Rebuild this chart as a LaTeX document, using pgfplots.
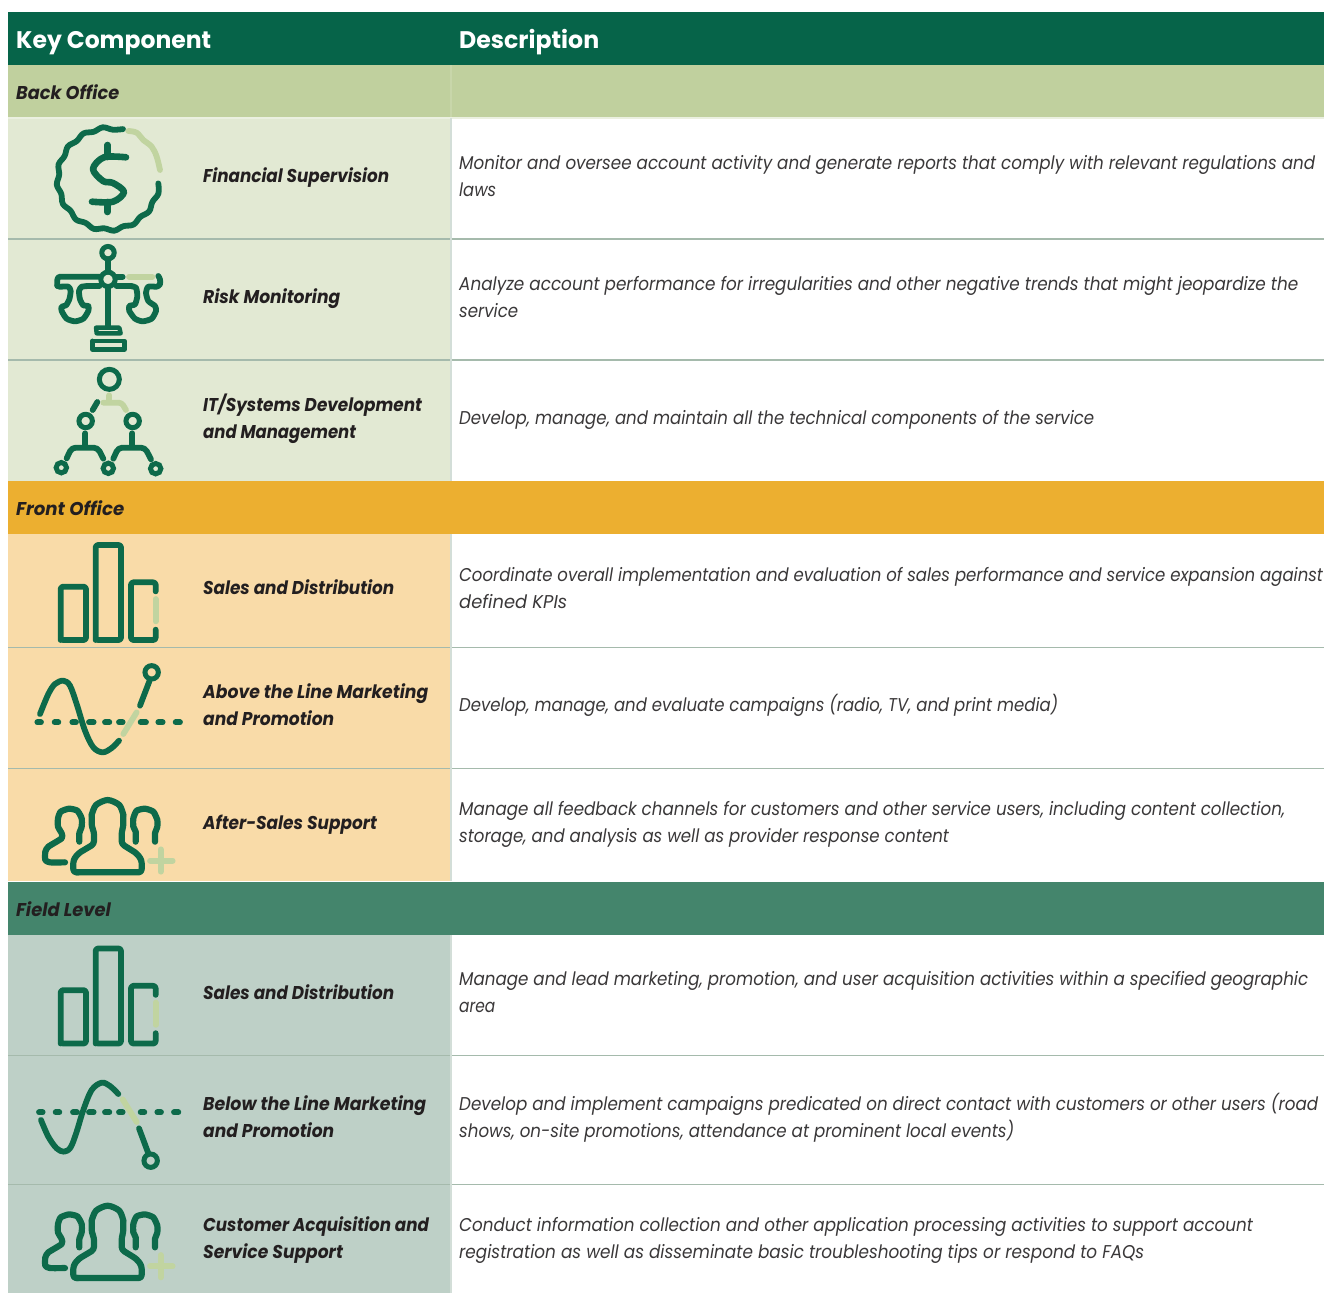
\documentclass[border=0pt]{standalone}
\usepackage{fontspec}
\setmainfont{Poppins}
\usepackage{graphicx}
\usepackage{pgfplots}
\pgfplotsset{compat=1.18}
\definecolor{hdr}{HTML}{066449}
\definecolor{bandA}{HTML}{C0D09E}
\definecolor{rowA}{HTML}{E2E9D3}
\definecolor{bandB}{HTML}{ECAF30}
\definecolor{rowB}{HTML}{F9DBA8}
\definecolor{bandC}{HTML}{44856C}
\definecolor{rowC}{HTML}{BED0C7}
\definecolor{sep}{HTML}{A5BAAC}
\definecolor{vsep}{HTML}{D3DED8}
\definecolor{ink}{HTML}{0D6A4A}
\definecolor{pale}{HTML}{C1D4A0}
\definecolor{txt}{HTML}{231F20}
\definecolor{body}{HTML}{3A3839}
\pgfplotsset{
  z/.style 2 args={x filter/.expression={#1+x/3},y filter/.expression={#2+y/3}},
  dk/.style={draw=ink,line width=5.8pt,line cap=round,line join=round,no markers,mark=none},
  lt/.style={draw=pale,line width=5.8pt,line cap=round,line join=round,no markers,mark=none},
  ring/.style={only marks,mark=o,mark size=#1pt,mark options={draw=ink,line width=5pt}},
}
\newcommand{\rect}[5]{\addplot[fill=#5,draw=none,forget plot] coordinates {(#1,#2)(#3,#2)(#3,#4)(#1,#4)} --cycle;}
\newcommand{\hln}[1]{\addplot[draw=sep,line width=1.9pt,forget plot] coordinates {(8,#1)(1324,#1)};}
\newcommand{\T}[6]{\node[anchor=base west,inner sep=0pt,text=#5] at (axis cs:#1,#2) {\fontsize{#6}{#6}\selectfont\resizebox{#3pt}{\height}{#4}};}
\newcommand{\BI}[1]{\textbf{\textit{#1}}}
\newcommand{\Nm}[4]{\T{#1}{#2}{#3}{\BI{#4}}{txt}{18.5}}
\newcommand{\Ds}[4]{\T{#1}{#2}{#3}{\textit{#4}}{body}{18.5}}
% bars icon
\newcommand{\barsicon}[2]{
 \addplot[dk,z={#1}{#2},rounded corners=2.5pt] coordinates {(122,318)(122,158)(198,158)(198,318)(122,318)(122,200)};
 \addplot[dk,z={#1}{#2},rounded corners=2.5pt] coordinates {(227,318)(227,33)(303,33)(303,318)(227,318)(227,200)};
 \addplot[dk,z={#1}{#2},rounded corners=2.5pt] coordinates {(407,172)(407,145)(333,145)(333,318)(407,318)(407,287)};
 \addplot[lt,z={#1}{#2}] coordinates {(407,195)(407,262)};
}
% people icon
\newcommand{\peopleicon}[2]{
 \addplot[dk,line width=6.2pt,smooth,tension=0.35,z={#1}{#2}] coordinates {(135,277)(90,277)(76,270)(76,245)(85,230)(125,205)(125,190)(114,170)(114,145)(122,125)(147,116)(172,122)(185,145)(185,170)(178,190)(178,215)};
 \addplot[dk,line width=6.2pt,smooth,tension=0.35,z={#1}{#2}] coordinates {(347,215)(347,185)(340,170)(340,145)(350,122)(375,116)(400,125)(412,150)(412,170)(405,190)(405,215)};
 \addplot[dk,line width=6.2pt,z={#1}{#2},rounded corners=3pt] coordinates {(170,307)(365,307)(365,270)(350,250)(305,222)(305,185)(310,170)(310,135)};
 \addplot[dk,line width=6.2pt,smooth,tension=0.5,z={#1}{#2}] coordinates {(310,135)(298,105)(263,90)(228,105)(215,135)};
 \addplot[dk,line width=6.2pt,z={#1}{#2},rounded corners=3pt] coordinates {(215,135)(215,170)(222,185)(222,222)(175,250)(160,270)(160,307)(175,307)};
 \addplot[lt,z={#1}{#2}] coordinates {(390,272)(458,272)};
 \addplot[lt,z={#1}{#2}] coordinates {(422,238)(422,305)};
}
\begin{document}
\begin{tikzpicture}
\begin{axis}[
  scale only axis,width=1324pt,height=1293pt,
  xmin=0,xmax=1324,ymin=0,ymax=1293,y dir=reverse,
  hide axis,clip=true,axis on top=false,
]
% full page
\rect{0}{0}{1324}{1293}{white}
% bands and rows
\rect{8}{12}{1324}{65}{hdr}
\rect{8}{65}{1324}{117.5}{bandA}
\rect{8}{118}{451}{481}{rowA}
\rect{8}{481}{1324}{533.5}{bandB}
\rect{8}{534}{451}{881}{rowB}
\rect{8}{882}{1324}{934.5}{bandC}
\rect{8}{935}{451}{1293}{rowC}
\addplot[draw=rowA!70!white,line width=1.5pt] coordinates {(8,118)(1324,118)};
\hln{239}\hln{360}\hln{647.5}\hln{768.5}\hln{1055.5}\hln{1184.5}
\addplot[draw=bandA!88!white,line width=2pt] coordinates {(451,65)(451,117)};
\addplot[draw=vsep,line width=2pt] coordinates {(451,118)(451,481)};
\addplot[draw=vsep,line width=2pt] coordinates {(451,534)(451,881)};
\addplot[draw=vsep,line width=2pt] coordinates {(451,935)(451,1293)};
% icon 1: dollar
\addplot[dk,smooth,tension=0.6] coordinates {(158.3,183.4)(158.4,193.6)(152.4,201.9)(149.1,211.5)(140.3,216.9)(133.5,224.6)(123.4,226.2)(114.2,230.7)(104.2,228.3)(93.9,228.9)(85.6,222.9)(76,219.6)(70.6,210.8)(62.9,204)(61.3,193.9)(56.8,184.7)(59.2,174.7)(58.6,164.4)(64.6,156.1)(67.9,146.4)(76.7,141.1)(83.5,133.4)(93.6,131.8)(102.8,127.3)(112.8,129.7)(123,129.1)};
\addplot[lt,smooth,tension=0.6] coordinates {(128.3,131)(136.7,132.7)(143.3,140)(151.7,146.7)(156.7,156.7)(160,170)};
\addplot[dk,line width=6.6pt,smooth,tension=0.55] coordinates {(126,157.3)(104,157.3)(93,169)(103,181)(113,183)(124,192)(113,201.7)(92,201.7)};
\addplot[dk,line width=6.6pt] coordinates {(107.7,145)(107.7,157)};
\addplot[dk,line width=6.6pt] coordinates {(107.3,202)(107.3,212)};
% icon 2: scales
\addplot[ring=6.2,z={20}{236}] coordinates {(264,50)};
\addplot[ring=7.2,z={20}{236}] coordinates {(264,130)};
\addplot[dk,z={20}{236}] coordinates {(264,75)(264,102)};
\addplot[dk,z={20}{236},smooth,tension=0.4] coordinates {(112,148)(118,152)(145,152)(152,165)(148,190)(138,208)(125,212)(125,225)(140,248)(165,256)(190,248)(205,225)(205,210)(190,208)(180,190)(177,165)(185,152)(200,151)};
\addplot[dk,z={20}{236},rounded corners=3pt] coordinates {(238,122)(112,122)(112,150)};
\addplot[dk,z={20}{236}] coordinates {(200,151)(238,151)};
\addplot[dk,z={20}{236}] coordinates {(288,122)(308,122)};
\addplot[lt,z={20}{236}] coordinates {(327,122)(397,122)};
\addplot[dk,z={20}{236},smooth,tension=0.4] coordinates {(415,120)(420,130)(420,145)(410,152)(385,152)(378,170)(385,195)(405,210)(408,225)(395,248)(368,256)(345,248)(328,225)(328,210)(345,205)(352,180)(348,155)(335,151)};
\addplot[dk,z={20}{236}] coordinates {(335,151)(290,151)};
\addplot[dk,z={20}{236}] coordinates {(264,158)(264,272)};
\addplot[dk,line width=4.4pt,z={20}{236}] coordinates {(230,292)(228,275)(298,275)(302,292)(230,292)};
\addplot[dk,line width=4.8pt,z={20}{236}] coordinates {(217,315)(313,315)(313,340)(217,340)(217,315)};
% icon 3: hierarchy
\addplot[ring=10,z={20}{236}] coordinates {(268,430)};
\addplot[ring=6.7,z={20}{236}] coordinates {(197,555)(338,555)};
\addplot[ring=5.2,z={20}{236}] coordinates {(124,695)(265,697)(407,698)};
\addplot[lt,z={20}{236}] coordinates {(268,478)(268,498)};
\addplot[lt,z={20}{236},rounded corners=3pt] coordinates {(250,500)(305,500)(318,522)};
\addplot[dk,z={20}{236}] coordinates {(232,498)(218,522)};
\addplot[dk,z={20}{236}] coordinates {(196,592)(196,632)};
\addplot[dk,z={20}{236}] coordinates {(337,592)(337,632)};
\addplot[dk,z={20}{236},rounded corners=4pt] coordinates {(140,667)(155,635)(233,635)(250,668)};
\addplot[dk,z={20}{236},rounded corners=4pt] coordinates {(280,668)(295,635)(375,635)(393,670)};
% icon 4: bars
\barsicon{20}{534}
% icon 5: wave above the line
\addplot[dk,z={20}{534},smooth,tension=0.55] coordinates {(60,540)(85,480)(105,450)(130,440)(150,455)(170,510)(195,590)(220,640)(248,655)(275,642)(297,620)};
\addplot[lt,z={20}{534}] coordinates {(310,600)(350,535)};
\addplot[dk,z={20}{534}] coordinates {(360,515)(388,442)};
\addplot[ring=6.7,z={20}{534}] coordinates {(395,415)};
\addplot[dk,z={20}{534}] coordinates {(52,565)(63,565)};
\addplot[dk,z={20}{534}] coordinates {(104,565)(115,565)};
\addplot[dk,z={20}{534}] coordinates {(157,565)(168,565)};
\addplot[dk,z={20}{534}] coordinates {(207,565)(221,565)};
\addplot[dk,z={20}{534}] coordinates {(255,565)(268,565)};
\addplot[dk,z={20}{534}] coordinates {(297,565)(308,565)};
\addplot[dk,z={20}{534}] coordinates {(362,565)(378,565)};
\addplot[dk,z={20}{534}] coordinates {(415,565)(428,565)};
\addplot[dk,z={20}{534}] coordinates {(467,565)(480,565)};
% icon 6: people
\peopleicon{20}{770}
% icon 7: bars
\barsicon{20}{937.5}
% icon 8: wave below the line
\addplot[dk,z={20}{1060},smooth,tension=0.55] coordinates {(63,180)(85,230)(110,265)(132,275)(152,262)(170,215)(190,150)(215,90)(245,68)(270,78)(295,102)};
\addplot[lt,z={20}{1060}] coordinates {(308,118)(350,186)};
\addplot[dk,z={20}{1060}] coordinates {(357,205)(385,280)};
\addplot[ring=6.7,z={20}{1060}] coordinates {(392,302)};
\addplot[dk,z={20}{1060}] coordinates {(57,157)(68,157)};
\addplot[dk,z={20}{1060}] coordinates {(107,157)(118,157)};
\addplot[dk,z={20}{1060}] coordinates {(159,157)(171,157)};
\addplot[dk,z={20}{1060}] coordinates {(207,157)(221,157)};
\addplot[dk,z={20}{1060}] coordinates {(255,157)(268,157)};
\addplot[dk,z={20}{1060}] coordinates {(297,157)(308,157)};
\addplot[dk,z={20}{1060}] coordinates {(362,157)(373,157)};
\addplot[dk,z={20}{1060}] coordinates {(412,157)(423,157)};
\addplot[dk,z={20}{1060}] coordinates {(462,157)(475,157)};
% icon 9: people
\peopleicon{20}{1175.7}
% text
\T{16}{48}{195}{\textbf{Key Component}}{white}{24}
\T{459}{48}{140}{\textbf{Description}}{white}{24}
\T{16}{99}{103}{\BI{Back Office}}{txt}{18.5}
\T{16}{515}{108}{\BI{Front Office}}{txt}{18.5}
\T{16}{916}{95}{\BI{Field Level}}{txt}{18.5}
\Nm{203}{182}{186}{Financial Supervision}
\Nm{203}{303}{137}{Risk Monitoring}
\Nm{203}{411}{219}{IT/Systems Development}
\Nm{203}{438}{153}{and Management}
\Nm{203}{594}{191}{Sales and Distribution}
\Nm{203}{698}{225}{Above the Line Marketing}
\Nm{203}{725}{131}{and Promotion}
\Nm{203}{829}{174}{After-Sales Support}
\Nm{203}{999}{191}{Sales and Distribution}
\Nm{203}{1110}{223}{Below the Line Marketing}
\Nm{203}{1137}{131}{and Promotion}
\Nm{203}{1231}{226}{Customer Acquisition and}
\Nm{203}{1258}{140}{Service Support}
\Ds{459}{169}{856}{Monitor and oversee account activity and generate reports that comply with relevant regulations and}
\Ds{459}{196}{37}{laws}
\Ds{459}{290}{839}{Analyze account performance for irregularities and other negative trends that might jeopardize the}
\Ds{459}{317}{59}{service}
\Ds{459}{424}{635}{Develop, manage, and maintain all the technical components of the service}
\Ds{459}{581}{864}{Coordinate overall implementation and evaluation of sales performance and service expansion against}
\Ds{459}{608}{108}{defined KPIs}
\Ds{459}{711}{599}{Develop, manage, and evaluate campaigns (radio, TV, and print media)}
\Ds{459}{815}{826}{Manage all feedback channels for customers and other service users, including content collection,}
\Ds{459}{842}{490}{storage, and analysis as well as provider response content}
\Ds{459}{985}{849}{Manage and lead marketing, promotion, and user acquisition activities within a specified geographic}
\Ds{459}{1012}{36}{area}
\Ds{459}{1110}{859}{Develop and implement campaigns predicated on direct contact with customers or other users (road}
\Ds{459}{1137}{555}{shows, on-site promotions, attendance at prominent local events)}
\Ds{459}{1231}{794}{Conduct information collection and other application processing activities to support account}
\Ds{459}{1258}{685}{registration as well as disseminate basic troubleshooting tips or respond to FAQs}
\end{axis}
\end{tikzpicture}
\end{document}
